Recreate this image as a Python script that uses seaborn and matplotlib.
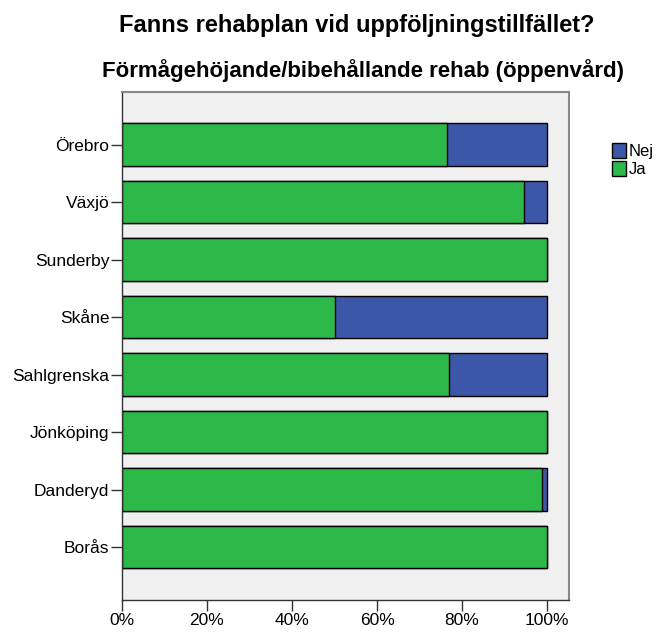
import matplotlib
matplotlib.use("Agg")
import matplotlib.pyplot as plt
import numpy as np
import pandas as pd
import seaborn as sns
from matplotlib.patches import Patch
from matplotlib.ticker import PercentFormatter

# data (percent Ja, rest is Nej)
sites = ['Örebro', 'Växjö', 'Sunderby', 'Skåne', 'Sahlgrenska', 'Jönköping', 'Danderyd', 'Borås']
ja_pct = [76.5, 94.6, 100.0, 50.0, 76.9, 100.0, 98.8, 100.0]
nej_pct = [23.5, 5.4, 0.0, 50.0, 23.1, 0.0, 1.2, 0.0]

green = '#2db84a'
blue = '#3d57a8'

df = pd.DataFrame({'site': sites, 'Ja': ja_pct, 'Nej': nej_pct})
df['total'] = df['Ja'] + df['Nej']

sns.set_style('white')
plt.rcParams['font.family'] = ['Liberation Sans', 'DejaVu Sans']
plt.rcParams['text.color'] = 'black'

fig = plt.figure(figsize=(6.62, 6.33), dpi=100)
ax = fig.add_axes([0.184, 0.052, 0.676, 0.803])
ax.set_facecolor('#f0f0f0')

# stacked: draw the full bar in blue, then the Ja part over it in green
sns.barplot(data=df, x='total', y='site', color=blue, edgecolor='black',
            linewidth=1, width=0.74, saturation=1, ax=ax)
sns.barplot(data=df, x='Ja', y='site', color=green, edgecolor='black',
            linewidth=1, width=0.74, saturation=1, ax=ax)

ax.set_xlim(0, 105.2)
ax.set_ylim(7.92, -0.92)
ax.set_xticks([0, 20, 40, 60, 80, 100])
ax.xaxis.set_major_formatter(PercentFormatter(decimals=0))
ax.set_xlabel('')
ax.set_ylabel('')
ax.tick_params(axis='both', direction='out', length=8, width=1, colors='#333333',
               labelcolor='black', labelsize=12.5, bottom=True, left=True, pad=1)

for side in ['left', 'bottom']:
    ax.spines[side].set_color('#333333')
    ax.spines[side].set_linewidth(1)
for side in ['top', 'right']:
    ax.spines[side].set_color('#888888')
    ax.spines[side].set_linewidth(1.5)

handles = [Patch(facecolor=blue, edgecolor='black', label='Nej'),
           Patch(facecolor=green, edgecolor='black', label='Ja')]
fig.legend(handles=handles, loc='upper left', bbox_to_anchor=(0.914, 0.785),
           frameon=False, fontsize=12, handlelength=0.85, handleheight=1.0,
           handletextpad=0.15, labelspacing=0.1, borderaxespad=0)

fig.text(0.539, 0.9494, 'Fanns rehabplan vid uppföljningstillfället?', ha='center',
         va='baseline', fontsize=17, fontweight='bold', color='black')
fig.text(0.548, 0.8784, 'Förmågehöjande/bibehållande rehab (öppenvård)', ha='center',
         va='baseline', fontsize=16, fontweight='bold', color='black')

fig.savefig('out.png', dpi=100)
